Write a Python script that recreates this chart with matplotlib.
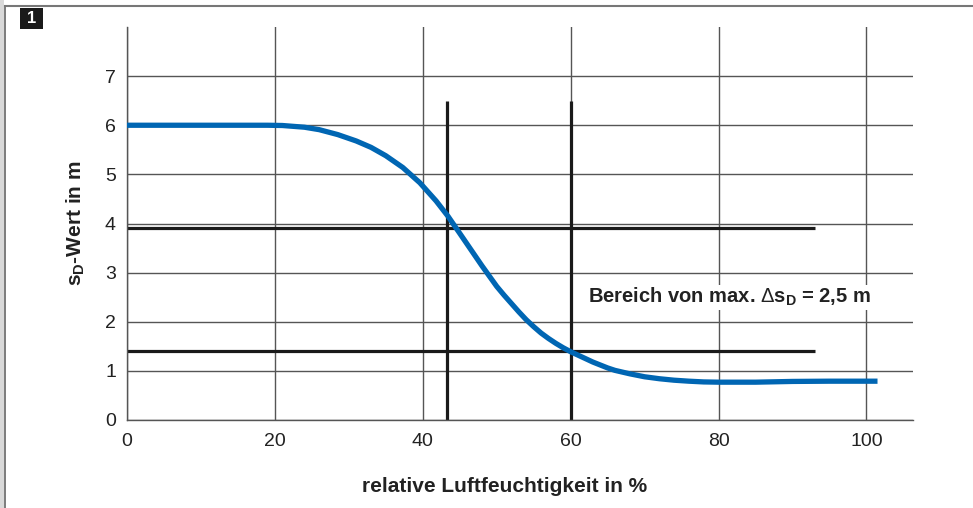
import matplotlib
matplotlib.use("Agg")
import matplotlib.pyplot as plt
from matplotlib.patches import Rectangle
from matplotlib.lines import Line2D


# -----------------------------
# Data
# -----------------------------

humidity = [0, 10, 19, 21, 24, 26, 28.5, 31, 33, 35, 37.3, 39.6, 41.8,
            43.4, 45, 46, 47, 48, 49, 50, 51, 52, 53, 54, 55, 56, 57, 58,
            59, 60, 61, 62, 63, 64, 65, 66, 68, 70, 72, 74, 76, 78, 80,
            85, 90, 95, 101.5]
sd_value = [6.0, 6.0, 6.0, 5.995, 5.96, 5.91, 5.81, 5.68, 5.55, 5.38,
            5.14, 4.83, 4.46, 4.15, 3.80, 3.58, 3.36, 3.14, 2.93, 2.72,
            2.54, 2.37, 2.20, 2.04, 1.90, 1.77, 1.66, 1.56, 1.47, 1.39,
            1.32, 1.25, 1.18, 1.12, 1.06, 1.01, 0.94, 0.88, 0.84, 0.81,
            0.79, 0.775, 0.77, 0.77, 0.785, 0.79, 0.79]

x_ticks = [0, 20, 40, 60, 80, 100]
y_ticks = [0, 1, 2, 3, 4, 5, 6, 7]

# range markers
marker_x = [43.3, 60]
marker_x_top = 6.5
marker_y = [3.9, 1.4]
marker_y_end = 93

annotation = r"Bereich von max. $\Delta$s$_\mathbf{D}$ = 2,5 m"


# -----------------------------
# Style
# -----------------------------

plt.rcParams["font.family"] = ["Liberation Sans", "DejaVu Sans"]
plt.rcParams["mathtext.fontset"] = "custom"
plt.rcParams["mathtext.rm"] = "Liberation Sans"
plt.rcParams["mathtext.bf"] = "Liberation Sans:bold"

TEXT = "#222222"
GRID = "#555555"
BLUE = "#0066b3"


# -----------------------------
# Plot
# -----------------------------

fig = plt.figure(figsize=(9.73, 5.08), dpi=100)
ax = fig.add_axes([127 / 973, 1 - 420 / 508, 786 / 973, 393 / 508])

ax.set_xlim(0, 106.3)
ax.set_ylim(0, 8)
ax.set_xticks(x_ticks)
ax.set_yticks(y_ticks)
ax.tick_params(length=0, labelsize=14, colors=TEXT)
ax.tick_params(axis="x", pad=9)
ax.tick_params(axis="y", pad=8)

ax.grid(True, color=GRID, linewidth=1.0, zorder=0)
ax.set_axisbelow(True)

for side in ["top", "right"]:
    ax.spines[side].set_visible(False)
for side in ["left", "bottom"]:
    ax.spines[side].set_color(GRID)
    ax.spines[side].set_linewidth(1.0)

ax.vlines(marker_x, 0, marker_x_top, color="#1a1a1a", linewidth=2.3, zorder=2)
ax.hlines(marker_y, 0, marker_y_end, color="#1a1a1a", linewidth=2.3, zorder=2)

ax.plot(humidity, sd_value, color=BLUE, linewidth=3.8,
        solid_capstyle="butt", solid_joinstyle="round", zorder=3)

ax.text(62.4, 2.5, annotation, fontsize=14.5, fontweight="bold",
        color=TEXT, va="center", ha="left", zorder=4,
        bbox=dict(facecolor="white", edgecolor="none", pad=1))

fig.text(505 / 973, 1 - 487 / 508, "relative Luftfeuchtigkeit in %",
         fontsize=15, fontweight="bold", color=TEXT, ha="center", va="center")
fig.text(76 / 973, 1 - 223 / 508, r"s$_\mathbf{D}$-Wert in m",
         fontsize=15, fontweight="bold", color=TEXT, rotation=90,
         ha="center", va="center")

# frame decoration
fig.patches.append(Rectangle((0, 0), 4 / 973, 1, transform=fig.transFigure,
                             facecolor="#d9d9d9", edgecolor="none"))
fig.lines.append(Line2D([5 / 973, 5 / 973], [0, 1 - 6 / 508],
                        transform=fig.transFigure, color="#666666", linewidth=1.2))
fig.lines.append(Line2D([5 / 973, 1], [1 - 6 / 508, 1 - 6 / 508],
                        transform=fig.transFigure, color="#777777", linewidth=1.5))
fig.patches.append(Rectangle((20 / 973, 1 - 29 / 508), 23 / 973, 21 / 508,
                             transform=fig.transFigure,
                             facecolor="#1a1a1a", edgecolor="none"))
fig.text(31.5 / 973, 1 - 18.5 / 508, "1", fontsize=12, fontweight="bold",
         color="white", ha="center", va="center")


# -----------------------------
# Save
# -----------------------------

fig.savefig("out.png", dpi=100)
plt.close(fig)

print("Saved: out.png")
